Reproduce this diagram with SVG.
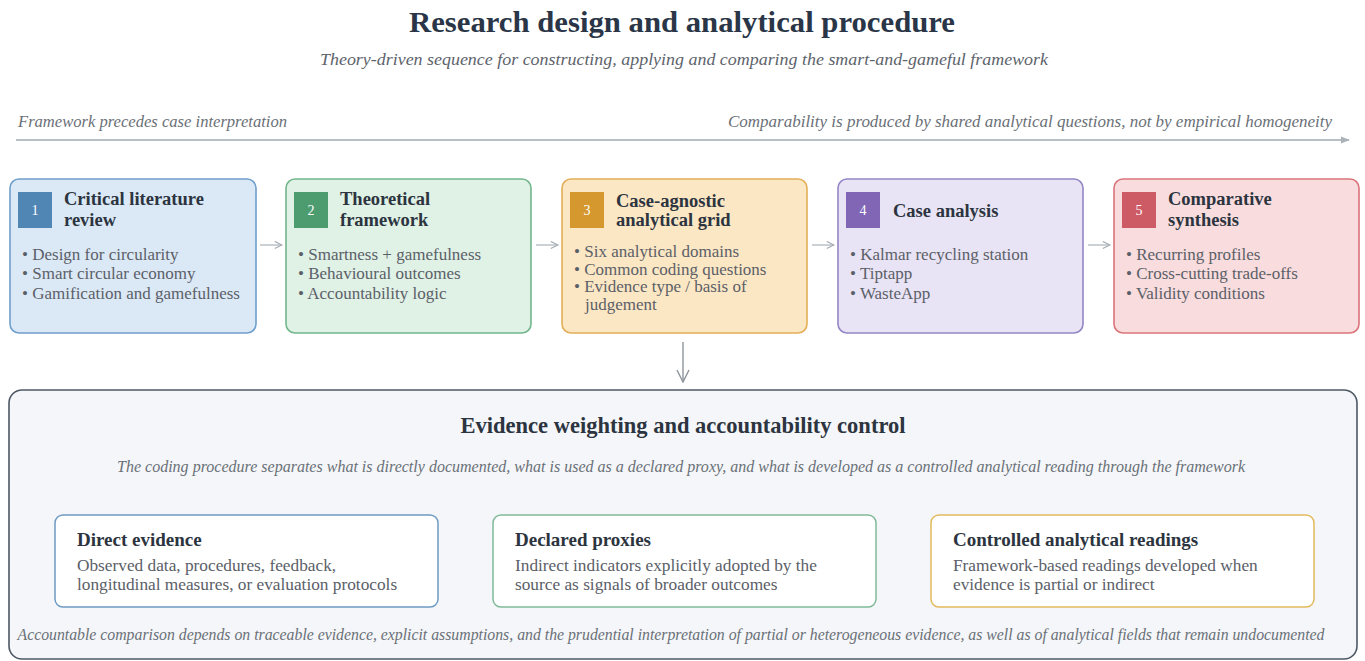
<svg xmlns="http://www.w3.org/2000/svg" width="1365" height="661" viewBox="0 0 1365 661">
  <defs>
    <marker id="tri" viewBox="0 0 10 10" refX="9" refY="5" markerWidth="9" markerHeight="9" markerUnits="userSpaceOnUse" orient="auto">
      <path d="M0,1 L10,5 L0,9 Z" fill="#aab2b9"/>
    </marker>
    <marker id="chev" viewBox="0 0 10 10" refX="9" refY="5" markerWidth="9" markerHeight="9" markerUnits="userSpaceOnUse" orient="auto">
      <path d="M1,1 L9,5 L1,9" fill="none" stroke="#a3aab1" stroke-width="1.2"/>
    </marker>
    <marker id="chevBig" viewBox="0 0 14 14" refX="13" refY="7" markerWidth="14" markerHeight="14" markerUnits="userSpaceOnUse" orient="auto">
      <path d="M1,1 L13,7 L1,13" fill="none" stroke="#8c949b" stroke-width="1.4"/>
    </marker>
  </defs>
  <style>
    text { font-family: "Liberation Serif", "Times New Roman", serif; }
    .title { font-size: 29px; font-weight: bold; fill: #2a3647; }
    .sub { font-size: 16.5px; font-style: italic; fill: #5d636b; }
    .note { font-size: 16px; font-style: italic; fill: #6a7077; }
    .step { stroke-width: 1.6; }
    .num { font-size: 14px; fill: #ffffff; text-anchor: middle; }
    .stitle { font-size: 18.5px; font-weight: bold; fill: #2c3440; }
    .bul { font-size: 17px; fill: #5b6068; }
    .etitle { font-size: 22.5px; font-weight: bold; fill: #2c3440; }
    .ktitle { font-size: 19px; font-weight: bold; fill: #2c3440; }
    .kbody { font-size: 17.3px; fill: #5b6068; }
    .conn { stroke: #aab2b9; stroke-width: 1.2; fill: none; }
  </style>

  <rect width="1365" height="661" fill="#ffffff"/>

  <!-- Heading -->
  <g id="heading">
    <text class="title" x="682" y="32" text-anchor="middle" textLength="546" lengthAdjust="spacingAndGlyphs">Research design and analytical procedure</text>
    <text class="sub" x="684" y="65" text-anchor="middle" textLength="728" lengthAdjust="spacingAndGlyphs">Theory-driven sequence for constructing, applying and comparing the smart-and-gameful framework</text>
  </g>

  <!-- Process axis -->
  <g id="axis">
    <text class="note" x="18" y="127" textLength="269" lengthAdjust="spacingAndGlyphs">Framework precedes case interpretation</text>
    <text class="note" x="1332" y="127" text-anchor="end" textLength="604" lengthAdjust="spacingAndGlyphs">Comparability is produced by shared analytical questions, not by empirical homogeneity</text>
    <line x1="16" y1="140" x2="1349" y2="140" stroke="#b8bfc5" stroke-width="2" marker-end="url(#tri)"/>
  </g>

  <!-- Connectors -->
  <g id="connectors">
    <line class="conn" x1="260" y1="245" x2="282" y2="245" marker-end="url(#chev)"/>
    <line class="conn" x1="536" y1="245" x2="558" y2="245" marker-end="url(#chev)"/>
    <line class="conn" x1="812" y1="245" x2="834" y2="245" marker-end="url(#chev)"/>
    <line class="conn" x1="1088" y1="245" x2="1110" y2="245" marker-end="url(#chev)"/>
    <line x1="683" y1="342" x2="683" y2="382" stroke="#8c949b" stroke-width="1.4" marker-end="url(#chevBig)"/>
  </g>

  <!-- Step 1 -->
  <g id="step1">
    <rect class="step" x="10" y="179" width="246" height="154" rx="9" fill="#dbe9f6" stroke="#6f9fcb"/>
    <rect x="18" y="192" width="34" height="36" fill="#4f86b4"/>
    <text class="num" x="35" y="215">1</text>
    <text class="stitle" x="64" y="205">Critical literature</text>
    <text class="stitle" x="64" y="226">review</text>
    <text class="bul" x="22" y="260">• Design for circularity</text>
    <text class="bul" x="22" y="279">• Smart circular economy</text>
    <text class="bul" x="22" y="299">• Gamification and gamefulness</text>
  </g>

  <!-- Step 2 -->
  <g id="step2">
    <rect class="step" x="286" y="179" width="245" height="154" rx="9" fill="#e0f1e6" stroke="#72b68c"/>
    <rect x="294" y="192" width="34" height="36" fill="#4c9c70"/>
    <text class="num" x="311" y="215">2</text>
    <text class="stitle" x="340" y="205">Theoretical</text>
    <text class="stitle" x="340" y="226">framework</text>
    <text class="bul" x="298" y="260">• Smartness + gamefulness</text>
    <text class="bul" x="298" y="279">• Behavioural outcomes</text>
    <text class="bul" x="298" y="299">• Accountability logic</text>
  </g>

  <!-- Step 3 -->
  <g id="step3">
    <rect class="step" x="562" y="179" width="245" height="154" rx="9" fill="#fce7c4" stroke="#e3ae57"/>
    <rect x="570" y="192" width="34" height="36" fill="#d4982f"/>
    <text class="num" x="587" y="215">3</text>
    <text class="stitle" x="616" y="207">Case-agnostic</text>
    <text class="stitle" x="616" y="226">analytical grid</text>
    <text class="bul" x="574" y="257">• Six analytical domains</text>
    <text class="bul" x="574" y="275">• Common coding questions</text>
    <text class="bul" x="574" y="292">• Evidence type / basis of</text>
    <text class="bul" x="585" y="310">judgement</text>
  </g>

  <!-- Step 4 -->
  <g id="step4">
    <rect class="step" x="838" y="179" width="245" height="154" rx="9" fill="#e9e4f5" stroke="#9486c5"/>
    <rect x="846" y="192" width="34" height="36" fill="#8066b5"/>
    <text class="num" x="863" y="215">4</text>
    <text class="stitle" x="893" y="217">Case analysis</text>
    <text class="bul" x="850" y="260">• Kalmar recycling station</text>
    <text class="bul" x="850" y="279">• Tiptapp</text>
    <text class="bul" x="850" y="299">• WasteApp</text>
  </g>

  <!-- Step 5 -->
  <g id="step5">
    <rect class="step" x="1114" y="179" width="245" height="154" rx="9" fill="#f9dcdd" stroke="#da747b"/>
    <rect x="1122" y="192" width="34" height="36" fill="#cd5b66"/>
    <text class="num" x="1139" y="215">5</text>
    <text class="stitle" x="1168" y="205">Comparative</text>
    <text class="stitle" x="1168" y="226">synthesis</text>
    <text class="bul" x="1126" y="260">• Recurring profiles</text>
    <text class="bul" x="1126" y="279">• Cross-cutting trade-offs</text>
    <text class="bul" x="1126" y="299">• Validity conditions</text>
  </g>

  <!-- Evidence weighting panel -->
  <g id="evidence-panel">
    <rect x="9" y="390" width="1348" height="269" rx="13" fill="#f4f6f9" stroke="#4d5864" stroke-width="1.6"/>
    <text class="etitle" x="683" y="433" text-anchor="middle" textLength="445" lengthAdjust="spacingAndGlyphs">Evidence weighting and accountability control</text>
    <text class="note" x="681" y="472" text-anchor="middle" textLength="1128" lengthAdjust="spacingAndGlyphs">The coding procedure separates what is directly documented, what is used as a declared proxy, and what is developed as a controlled analytical reading through the framework</text>
    <text class="note" x="671" y="640" text-anchor="middle" textLength="1307" lengthAdjust="spacingAndGlyphs">Accountable comparison depends on traceable evidence, explicit assumptions, and the prudential interpretation of partial or heterogeneous evidence, as well as of analytical fields that remain undocumented</text>
  </g>

  <g id="direct-evidence">
    <rect x="55" y="515" width="383" height="92" rx="8" fill="#ffffff" stroke="#6e9bc2" stroke-width="1.5"/>
    <text class="ktitle" x="77" y="546">Direct evidence</text>
    <text class="kbody" x="77" y="571">Observed data, procedures, feedback,</text>
    <text class="kbody" x="77" y="590">longitudinal measures, or evaluation protocols</text>
  </g>

  <g id="declared-proxies">
    <rect x="493" y="515" width="383" height="92" rx="8" fill="#ffffff" stroke="#7fba98" stroke-width="1.5"/>
    <text class="ktitle" x="515" y="546">Declared proxies</text>
    <text class="kbody" x="515" y="571">Indirect indicators explicitly adopted by the</text>
    <text class="kbody" x="515" y="590">source as signals of broader outcomes</text>
  </g>

  <g id="controlled-readings">
    <rect x="931" y="515" width="383" height="92" rx="8" fill="#ffffff" stroke="#e2ba5c" stroke-width="1.5"/>
    <text class="ktitle" x="953" y="546">Controlled analytical readings</text>
    <text class="kbody" x="953" y="571">Framework-based readings developed when</text>
    <text class="kbody" x="953" y="590">evidence is partial or indirect</text>
  </g>
</svg>
